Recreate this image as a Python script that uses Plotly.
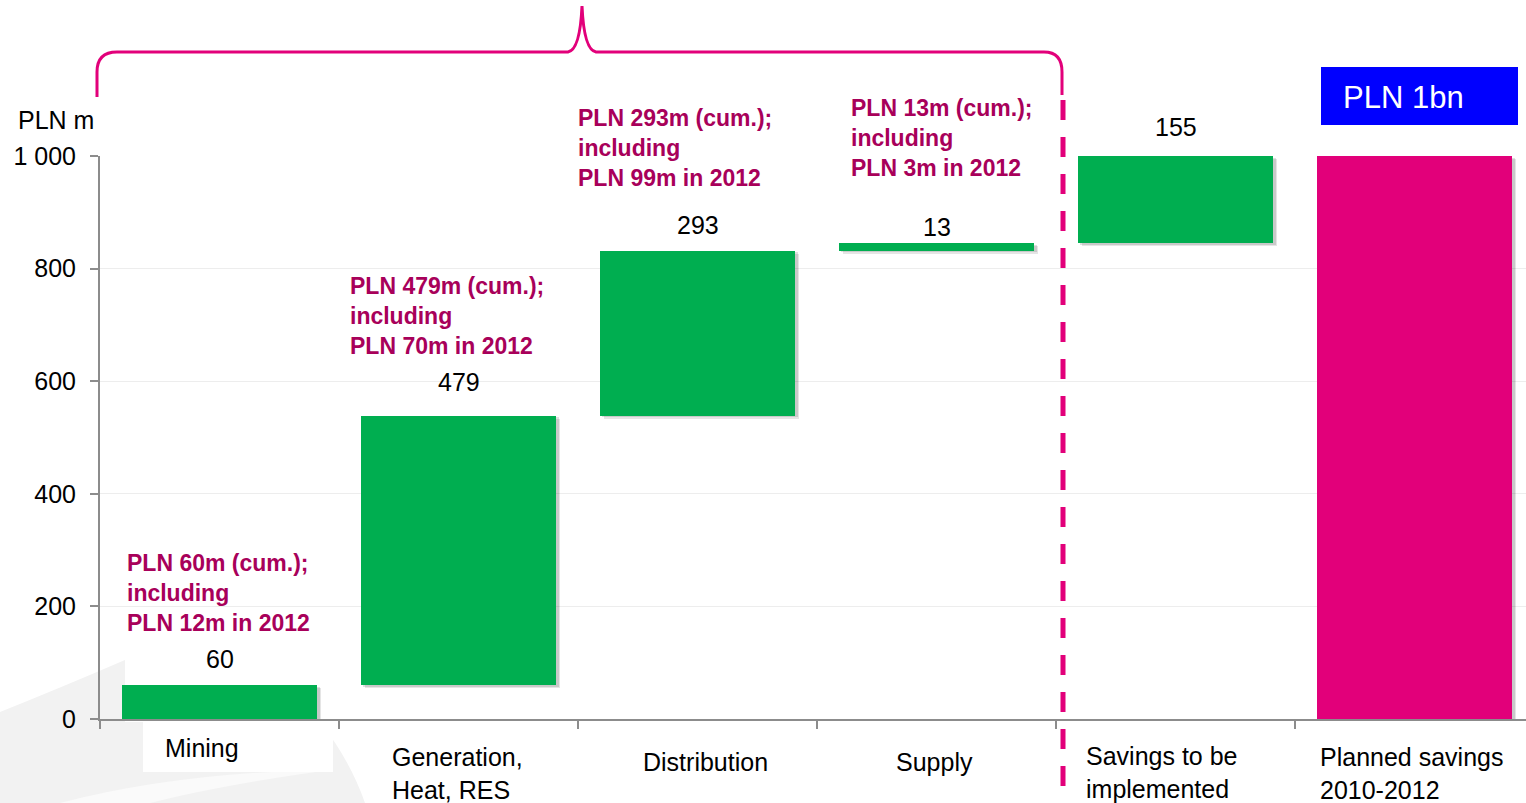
import plotly.graph_objects as go

# ---- data -------------------------------------------------------------
categories = ["Mining", "Generation,<br>Heat, RES", "Distribution", "Supply",
              "Savings to be<br>implemented", "Planned savings<br>2010-2012"]
increments = [60, 479, 293, 13, 155]          # step contributions, PLN m
planned_total = 1000                          # planned savings 2010-2012, PLN m
value_labels = ["60", "479", "293", "13", "155"]
notes = [
    "PLN 60m (cum.);<br>including<br>PLN 12m in 2012",
    "PLN 479m (cum.);<br>including<br>PLN 70m in 2012",
    "PLN 293m (cum.);<br>including<br>PLN 99m in 2012",
    "PLN 13m (cum.);<br>including<br>PLN 3m in 2012",
]
y_ticks = [0, 200, 400, 600, 800, 1000]
y_tick_labels = ["0", "200", "400", "600", "800", "1 000"]
total_label = "PLN 1bn"
unit_label = "PLN m"

# ---- styling ----------------------------------------------------------
GREEN = "#00AE50"
MAGENTA = "#E2007A"
NOTE_COLOR = "#A8005A"
FONT = "Liberation Sans, Arial, sans-serif"

W, H = 1526, 803
PL, PR, PT, PB = 100, 1526, 156, 719          # plot area in pixels
CAT_W = 239                                   # pixel width of one category


def px(x):
    return (x - PL) / (PR - PL)


def py(y):
    return (PB - y) / (PB - PT)


# waterfall bases
bases = []
running = 0
for v in increments:
    bases.append(running)
    running += v

idx = list(range(len(categories)))
heights = increments + [planned_total]
all_bases = bases + [0]
colors = [GREEN] * len(increments) + [MAGENTA]

BAR_W = 0.82
sh_dx = 4 / CAT_W
sh_dy = 3 * 1000 / (PB - PT)

fig = go.Figure()

# soft drop shadow behind each bar
for k, a in [(1.0, 0.10), (0.6, 0.12)]:
    fig.add_trace(go.Bar(
        x=idx, y=heights, base=[b - sh_dy * k for b in all_bases],
        width=BAR_W, offset=-BAR_W / 2 + sh_dx * k,
        marker=dict(color=f"rgba(0,0,0,{a})", line=dict(width=0)),
        hoverinfo="skip", showlegend=False,
    ))
fig.add_trace(go.Bar(
    x=idx, y=heights, base=all_bases,
    width=BAR_W, offset=-BAR_W / 2,
    marker=dict(color=colors, line=dict(width=0)),
    showlegend=False,
))

annotations = []

# values above the step bars
value_shift = [26, 34, 26, 16, 29]
for i, (b, v, t) in enumerate(zip(bases, increments, value_labels)):
    annotations.append(dict(
        x=i, y=b + v, xref="x", yref="y", text=t, showarrow=False,
        yanchor="middle", yshift=value_shift[i],
        font=dict(family=FONT, size=25, color="#000000"),
    ))

# explanatory notes
note_pos = [(125, 593), (348, 316), (576, 148), (849, 138)]
for (lx, cy), t in zip(note_pos, notes):
    annotations.append(dict(
        x=px(lx), y=py(cy), xref="paper", yref="paper", text=t,
        showarrow=False, xanchor="left", yanchor="middle", align="left",
        font=dict(family=FONT, size=23, color=NOTE_COLOR, weight="bold"),
    ))

# category labels
cat_pos = [(163, 748), (390, 773.5), (641, 762), (894, 762), (1084, 772.5), (1318, 773.5)]
for (lx, cy), t in zip(cat_pos, categories):
    annotations.append(dict(
        x=px(lx), y=py(cy), xref="paper", yref="paper", text=t,
        showarrow=False, xanchor="left", yanchor="middle", align="left",
        font=dict(family=FONT, size=25, color="#000000"),
    ))

# unit label
annotations.append(dict(
    x=px(96), y=py(120), xref="paper", yref="paper", text=unit_label,
    showarrow=False, xanchor="right", yanchor="middle",
    font=dict(family=FONT, size=25, color="#000000"),
))

# total badge text
annotations.append(dict(
    x=px(1341), y=py(97), xref="paper", yref="paper", text=total_label,
    showarrow=False, xanchor="left", yanchor="middle",
    font=dict(family=FONT, size=31, color="#FFFFFF"),
))

brace = (
    f"M {px(97)},{py(97)} L {px(97)},{py(72)} "
    f"Q {px(97)},{py(52)} {px(117)},{py(52)} "
    f"L {px(568)},{py(52)} "
    f"Q {px(580)},{py(50)} {px(582)},{py(6)} "
    f"Q {px(584)},{py(50)} {px(596)},{py(52)} "
    f"L {px(1044)},{py(52)} "
    f"Q {px(1062)},{py(52)} {px(1062)},{py(72)} "
    f"L {px(1062)},{py(95)}"
)

swoosh = (
    f"M {px(0)},{py(712)} Q {px(60)},{py(688)} {px(125)},{py(660)} "
    f"L {px(125)},{py(722)} L {px(320)},{py(722)} "
    f"Q {px(350)},{py(760)} {px(365)},{py(803)} "
    f"L {px(0)},{py(803)} Z"
)
sweep = (
    f"M {px(60)},{py(803)} Q {px(180)},{py(772)} {px(330)},{py(770)} "
    f"Q {px(220)},{py(785)} {px(150)},{py(803)} Z"
)

shapes = [
    dict(type="path", path=swoosh, xref="paper", yref="paper",
         fillcolor="#F2F2F2", line=dict(width=0), layer="below"),
    dict(type="path", path=sweep, xref="paper", yref="paper",
         fillcolor="#FAFAFA", line=dict(width=0), layer="below"),
    dict(type="rect", xref="paper", yref="paper",
         x0=px(143), x1=px(333), y0=py(772), y1=py(722),
         fillcolor="#FFFFFF", line=dict(width=0), layer="below"),
    dict(type="path", path=brace, xref="paper", yref="paper",
         line=dict(color=MAGENTA, width=3), layer="above"),
    dict(type="line", xref="paper", yref="paper",
         x0=px(1063), x1=px(1063), y0=py(100), y1=py(803),
         line=dict(color=MAGENTA, width=5, dash="20px,17px"), layer="above"),
    dict(type="rect", xref="paper", yref="paper",
         x0=px(1321), x1=px(1518), y0=py(125), y1=py(67),
         fillcolor="#0000FF", line=dict(width=0), layer="above"),
]

n_vis = (PR - PL) / CAT_W
fig.update_layout(
    width=W, height=H, autosize=False,
    margin=dict(l=PL, r=W - PR, t=PT, b=H - PB),
    paper_bgcolor="#FFFFFF", plot_bgcolor="rgba(0,0,0,0)",
    barmode="overlay", bargap=0,
    font=dict(family=FONT, size=25, color="#000000"),
    annotations=annotations, shapes=shapes,
    xaxis=dict(
        range=[-0.5, -0.5 + n_vis], showgrid=False, zeroline=False,
        tickmode="array", tickvals=[i - 0.5 for i in idx],
        ticktext=["" for _ in idx], ticks="outside", ticklen=8,
        tickcolor="#8C8C8C", tickwidth=2,
        showline=True, linecolor="#8C8C8C", linewidth=2,
        fixedrange=True,
    ),
    yaxis=dict(
        range=[0, 1000], tickmode="array", tickvals=y_ticks,
        ticktext=y_tick_labels, ticks="outside", ticklen=8,
        tickcolor="#8C8C8C", tickwidth=2, ticklabelstandoff=9,
        showline=True, linecolor="#8C8C8C", linewidth=2,
        showgrid=True, gridcolor="#EDEDED", gridwidth=1, zeroline=False,
        tickfont=dict(family=FONT, size=25, color="#000000"),
        fixedrange=True,
    ),
)

fig.write_html("out.html")
